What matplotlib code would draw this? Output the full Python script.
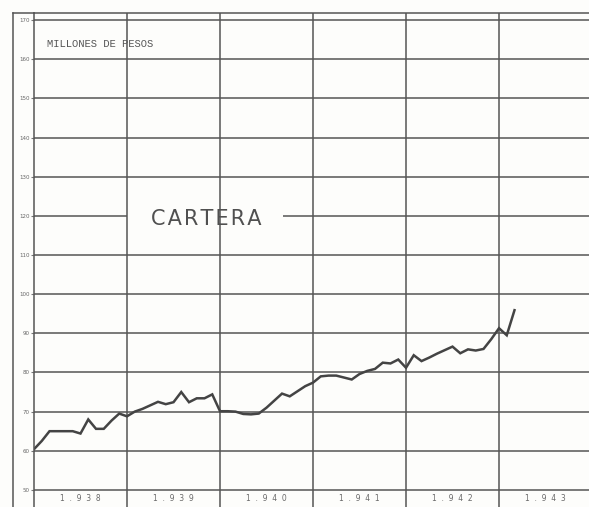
import matplotlib
matplotlib.use('Agg')
import matplotlib.pyplot as plt

# monthly values, Jan 1938 .. Mar 1943 (millones de pesos)
cartera = [60.4, 62.5, 65.0, 65.0, 65.0, 65.0, 64.4, 68.0, 65.6, 65.6, 67.7, 69.5,
           68.8, 70.0, 70.7, 71.6, 72.5, 71.9, 72.4, 75.0, 72.4, 73.4, 73.4, 74.4,
           70.1, 70.1, 70.0, 69.4, 69.3, 69.5, 71.0, 72.8, 74.6, 73.9, 75.2, 76.5,
           77.4, 79.0, 79.2, 79.2, 78.7, 78.2, 79.6, 80.4, 80.9, 82.5, 82.3, 83.3,
           81.2, 84.4, 82.9, 83.8, 84.8, 85.7, 86.6, 84.9, 85.9, 85.6, 86.0, 88.5,
           91.3, 89.5, 95.9]
years = ['1.938', '1.939', '1.940', '1.941', '1.942', '1.943']
y_ticks = [50, 60, 70, 80, 90, 100, 110, 120, 130, 140, 150, 160, 170]

W, H = 589, 507
grid_c = '#555555'
paper = '#fdfdfb'

fig = plt.figure(figsize=(W / 100, H / 100), dpi=100, facecolor=paper)
ax = fig.add_axes([34 / W, 0, (W - 34) / W, (H - 13) / H], facecolor=paper)

x_max = (W - 34) / 7.75
ax.set_xlim(0, x_max)
ax.set_ylim(50 - 17 / 3.9, 170 + 7 / 3.9)

# horizontal rules, the 120 one is broken by the title
for v in y_ticks:
    if v == 120:
        ax.hlines(v, 0, (127 - 34) / 7.75, color=grid_c, lw=1.1)
        ax.hlines(v, (283 - 34) / 7.75, x_max, color=grid_c, lw=1.1)
    else:
        ax.axhline(v, color=grid_c, lw=1.1)

# year dividers
for k in range(1, len(years)):
    ax.axvline(12 * k, color=grid_c, lw=1.1)

months = list(range(len(cartera)))
ax.plot(months, cartera, color='#444444', lw=1.8, solid_joinstyle='miter')

for spine in ['right', 'bottom']:
    ax.spines[spine].set_visible(False)
for spine in ['left', 'top']:
    ax.spines[spine].set_color(grid_c)
    ax.spines[spine].set_linewidth(1.1)

ax.set_xticks([])
ax.set_yticks(y_ticks)
ax.set_yticklabels([str(v) for v in y_ticks], fontsize=4, color='#666666')
ax.tick_params(axis='y', length=2, width=0.8, color='#777777', pad=1)

for k, yr in enumerate(years):
    ax.text(12 * k + 6, 50 - 8.5 / 3.9, '  '.join(yr), ha='center', va='center',
            fontsize=5.5, color='#6a6a6a')

ax.text((47 - 34) / 7.75, 60 + (451 - 46) / 3.9, 'MILLONES DE PESOS',
        family='Liberation Mono', fontsize=7.6, color='#555555',
        ha='left', va='center')
ax.text((206 - 34) / 7.75, 60 + (451 - 220) / 3.9, '\u200a'.join('CARTERA'),
        fontsize=15, color='#505050', ha='center', va='center')

# outer frame
fig.add_artist(plt.Line2D([13 / W, 13 / W], [0, (H - 13) / H], color=grid_c, lw=1.1))
fig.add_artist(plt.Line2D([13 / W, 34 / W], [(H - 13) / H, (H - 13) / H], color=grid_c, lw=1.1))

plt.savefig('out.png', dpi=100, facecolor=paper)
